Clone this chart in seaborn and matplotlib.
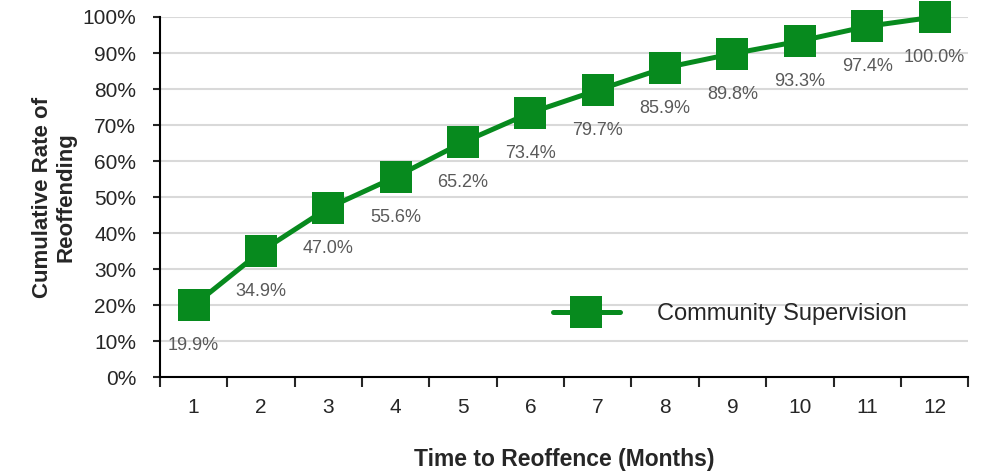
import numpy as np
import pandas as pd
import matplotlib
matplotlib.use('Agg')
import matplotlib.pyplot as plt
import seaborn as sns

# data
months = [1, 2, 3, 4, 5, 6, 7, 8, 9, 10, 11, 12]
cumulative_rate = [19.9, 34.9, 47.0, 55.6, 65.2, 73.4, 79.7, 85.9, 89.8, 93.3, 97.4, 100.0]
series_name = 'Community Supervision'
y_ticks = [0, 10, 20, 30, 40, 50, 60, 70, 80, 90, 100]

GREEN = '#078A1E'
LABEL_GREY = '#595959'

sns.set_style('white')
plt.rcParams['font.family'] = ['Liberation Sans', 'DejaVu Sans']

df = pd.DataFrame({'month': months, 'rate': cumulative_rate, 'series': series_name})

fig = plt.figure(figsize=(9.87, 4.72), dpi=100)
ax = fig.add_axes([0.162, 0.201, 0.819, 0.763])

sns.lineplot(data=df, x='month', y='rate', hue='series', palette=[GREEN],
             marker='s', markersize=23, markeredgewidth=0, linewidth=3.6,
             ax=ax, zorder=3)
for ln in ax.lines:
    ln.set_clip_on(False)

# value labels under each marker
for m, r in zip(months, cumulative_rate):
    ax.annotate(f'{r:.1f}%', (m, r), xytext=(0, -29), textcoords='offset points',
                ha='center', va='center', fontsize=13, color=LABEL_GREY, zorder=4)

ax.set_xlim(0.5, 12.5)
ax.set_ylim(0, 100)
ax.set_yticks(y_ticks)
ax.set_yticklabels([f'{t}%' for t in y_ticks])
ax.yaxis.grid(True, color='#D9D9D9', linewidth=1.5, zorder=0)
ax.set_axisbelow(True)

# category labels centred, ticks between categories (Excel style)
ax.set_xticks(months)
ax.set_xticklabels([str(m) for m in months])
ax.set_xticks(np.arange(0.5, 13, 1), minor=True)
ax.tick_params(axis='x', which='major', length=0, pad=15, labelsize=15)
ax.tick_params(axis='x', which='minor', length=7, width=1.5, direction='out', bottom=True)
ax.tick_params(axis='y', length=5, width=1.5, direction='out', left=True, pad=12, labelsize=15)

for side in ['top', 'right']:
    ax.spines[side].set_visible(False)
for side in ['left', 'bottom']:
    ax.spines[side].set_linewidth(1.5)
    ax.spines[side].set_color('black')

ax.set_xlabel('Time to Reoffence (Months)', fontsize=16.5, fontweight='bold', labelpad=22)
ax.set_ylabel('Cumulative Rate of\nReoffending', fontsize=16, fontweight='bold', labelpad=4)

leg = ax.legend(loc='center left', bbox_to_anchor=(0.486, 0.175), frameon=False,
                fontsize=17, handlelength=2.85, handletextpad=1.55,
                borderpad=0, borderaxespad=0)
for h in leg.legend_handles:
    h.set_markersize(23)
    h.set_linewidth(3.6)

fig.savefig('out.png', dpi=100)
